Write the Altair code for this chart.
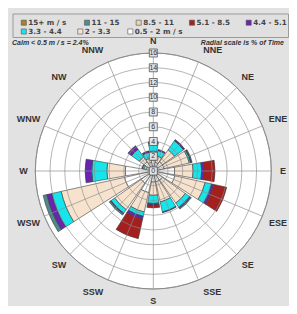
import altair as alt
import pandas as pd
import numpy as np

# ---------------- data read from the rose ----------------
directions = ["N", "NNE", "NE", "ENE", "E", "ESE", "SE", "SSE",
              "S", "SSW", "SW", "WSW", "W", "WNW", "NW", "NNW"]
bearing = [0.0, 22.5, 45.0, 67.5, 90.0, 112.5, 135.0, 157.5,
           180.0, 202.5, 225.0, 247.5, 270.0, 292.5, 315.0, 337.5]

# % of time for each speed class, per direction
p_05_2  = [1.5, 1.2, 1.5, 1.5, 2.9, 3.0, 1.5, 1.5, 1.5, 3.0, 2.0, 4.0, 3.8, 1.0, 1.5, 1.2]
p_2_33  = [1.2, 0.9, 2.0, 3.5, 2.5, 4.2, 3.8, 2.8, 1.8, 2.7, 4.4, 8.8, 2.5, 0.3, 0.8, 0.6]
p_33_44 = [1.1, 0.75, 1.5, 0.2, 1.16, 0.9, 0.7, 1.4, 1.1, 0.6, 0.6, 1.3, 2.05, 0.2, 1.3, 0.8]
p_44_51 = [0.2, 0.15, 0.2, 0.1, 0.32, 0.3, 0.15, 0.1, 0.2, 0.4, 0.1, 0.7, 0.9, 0.1, 0.6, 0.2]
p_51_85 = [0, 0, 0, 0, 1.49, 1.8, 0, 0, 0.4, 2.7, 0, 0, 0, 0, 0, 0]
p_85_11 = [0] * 16
p_11_15 = [0, 0, 0, 0.1, 0, 0, 0.15, 0, 0, 0, 0.2, 0.5, 0, 0, 0, 0]
p_15    = [0] * 16

classes = ["15+ m / s", "11 - 15", "8.5 - 11", "5.1 - 8.5",
           "4.4 - 5.1", "3.3 - 4.4", "2 - 3.3", "0.5 - 2 m / s"]
class_colors = ["#A8812C", "#4F8A8C", "#EAD2B4", "#A3201F",
                "#6A24B2", "#16E6EC", "#F7E3CD", "#FFFFFF"]

ring_values = [2, 4, 6, 8, 10, 12, 14, 16]
tick_labels = ["0", "2", "4", "6", "8", "10", "12", "14", "16"]
tick_values = [0, 2, 4, 6, 8, 10, 12, 14, 16]

calm_text = "Calm < 0.5 m / s = 2.4%"
scale_text = "Radial scale is % of Time"

# ---------------- layout ----------------
W, H = 281, 298
CX, CY = 145.3, 163.0
PX = 7.375            # pixels per percent
RMAX = 16
HALF = 10.0           # half petal width in degrees

# legend entry positions (pixels in the chart) - layout only
LEG_X = [15.8, 79.0, 130.7, 184.0, 240.7, 15.8, 72.3, 122.3]
LEG_Y = [14.7] * 5 + [23.5] * 3

# stacked petal table (inner -> outer)
stack_order = [("0.5 - 2 m / s", p_05_2), ("2 - 3.3", p_2_33), ("3.3 - 4.4", p_33_44),
               ("4.4 - 5.1", p_44_51), ("5.1 - 8.5", p_51_85), ("8.5 - 11", p_85_11),
               ("11 - 15", p_11_15), ("15+ m / s", p_15)]
rows = []
for i, d in enumerate(directions):
    cum = 0.0
    for name, arr in stack_order:
        v = arr[i]
        if v > 0:
            rows.append({"dir": d, "cls": name, "r0": cum, "r1": cum + v,
                         "t0": bearing[i] - HALF, "t1": bearing[i] + HALF})
            cum += v
petal_df = pd.DataFrame(rows)

theta_scale = alt.Scale(domain=[0, 360], range=[0, 2 * np.pi])
r_scale = alt.Scale(type="linear", domain=[0, RMAX], range=[0, RMAX * PX], zero=True, nice=False)
x_scale = alt.Scale(domain=[-CX / PX, (W - CX) / PX], range=[0, W], nice=False, zero=False)
y_scale = alt.Scale(domain=[-(H - CY) / PX, CY / PX], range=[H, 0], nice=False, zero=False)
color_scale = alt.Scale(domain=classes, range=class_colors)

disk = alt.Chart(pd.DataFrame({"a": [0], "b": [360], "r": [RMAX]})).mark_arc(
    fill="white", stroke="#8a8a8a", strokeWidth=1
).encode(
    theta=alt.Theta("a:Q", scale=theta_scale, stack=None), theta2="b:Q",
    radius=alt.Radius("r:Q", scale=r_scale, stack=None),
    x=alt.value(CX), y=alt.value(CY))

petals = alt.Chart(petal_df).mark_arc(stroke="#3a3a3a", strokeWidth=0.6).encode(
    theta=alt.Theta("t0:Q", scale=theta_scale, stack=None), theta2="t1:Q",
    radius=alt.Radius("r1:Q", scale=r_scale, stack=None), radius2="r0:Q",
    color=alt.Color("cls:N", scale=color_scale, legend=None),
    x=alt.value(CX), y=alt.value(CY))

rings_df = pd.DataFrame({"a": 0, "b": 360, "r": ring_values})
rings = alt.Chart(rings_df).mark_arc(fillOpacity=0, stroke="#8c8c8c", strokeWidth=0.8,
                                     strokeOpacity=0.8).encode(
    theta=alt.Theta("a:Q", scale=theta_scale, stack=None), theta2="b:Q",
    radius=alt.Radius("r:Q", scale=r_scale, stack=None),
    x=alt.value(CX), y=alt.value(CY))

rad = np.deg2rad(bearing)
spoke_df = pd.DataFrame({"x0": 0.0, "y0": 0.0,
                         "x1": RMAX * np.sin(rad), "y1": RMAX * np.cos(rad)})
spokes = alt.Chart(spoke_df).mark_rule(color="#8c8c8c", strokeWidth=0.8, opacity=0.85).encode(
    x=alt.X("x0:Q", scale=x_scale, axis=None), y=alt.Y("y0:Q", scale=y_scale, axis=None),
    x2="x1:Q", y2="y1:Q")

# direction labels: radius and alignment (layout)
lab_r, lab_align = [], []
for d in directions:
    if d in ("N", "E", "S", "W"):
        lab_r.append(17.6); lab_align.append("center")
    elif d in ("NNE", "SSE"):
        lab_r.append(17.7); lab_align.append("left")
    elif d in ("NNW", "SSW"):
        lab_r.append(17.7); lab_align.append("right")
    elif d in ("ENE", "ESE", "WNW", "WSW"):
        lab_r.append(18.3); lab_align.append("center")
    else:
        lab_r.append(18.1); lab_align.append("center")
dir_df = pd.DataFrame({"d": directions, "al": lab_align,
                       "x": np.array(lab_r) * np.sin(rad), "y": np.array(lab_r) * np.cos(rad)})
dir_layers = []
for al in ("center", "left", "right"):
    dir_layers.append(
        alt.Chart(dir_df[dir_df["al"] == al]).mark_text(
            font="Liberation Sans", fontSize=9, fontWeight="bold", color="#333", align=al
        ).encode(x=alt.X("x:Q", scale=x_scale, axis=None),
                 y=alt.Y("y:Q", scale=y_scale, axis=None), text="d:N"))

tick_df = pd.DataFrame({"t": tick_labels, "v": tick_values, "x": 0.0})
tick_box = alt.Chart(tick_df).mark_square(size=64, fill="#E4E4E4", stroke="#444",
                                          strokeWidth=0.7, opacity=1).encode(
    x=alt.X("x:Q", scale=x_scale, axis=None), y=alt.Y("v:Q", scale=y_scale, axis=None))
tick_text = alt.Chart(tick_df).mark_text(font="Liberation Sans", fontSize=7, color="#333").encode(
    x=alt.X("x:Q", scale=x_scale, axis=None), y=alt.Y("v:Q", scale=y_scale, axis=None), text="t:N")

calm = alt.Chart(pd.DataFrame({"t": [calm_text]})).mark_text(
    font="Liberation Sans", fontSize=7, fontStyle="italic", fontWeight="bold",
    color="#333", align="left").encode(text="t:N", x=alt.value(4), y=alt.value(35))
radial = alt.Chart(pd.DataFrame({"t": [scale_text]})).mark_text(
    font="Liberation Sans", fontSize=7, fontStyle="italic", fontWeight="bold",
    color="#333", align="right").encode(text="t:N", x=alt.value(276), y=alt.value(35))

# manual legend box
leg_df = pd.DataFrame({"cls": classes,
                       "lx": [(v - CX) / PX for v in LEG_X],
                       "ly": [(CY - v) / PX for v in LEG_Y]})
leg_bg = alt.Chart(pd.DataFrame({"a": [0]})).mark_rect(
    fill="#E0E0E0", stroke="#9A9A9A", strokeWidth=1).encode(
    x=alt.value(5), x2=alt.value(280.5), y=alt.value(6), y2=alt.value(29.5))
leg_sym = alt.Chart(leg_df).mark_square(size=26, stroke="#555", strokeWidth=0.6, opacity=1).encode(
    x=alt.X("lx:Q", scale=x_scale, axis=None), y=alt.Y("ly:Q", scale=y_scale, axis=None),
    color=alt.Color("cls:N", scale=color_scale, legend=None))
leg_txt = alt.Chart(leg_df).mark_text(font="DejaVu Sans", fontSize=7.2, fontWeight="bold",
                                      color="#444", align="left", dx=4.5).encode(
    x=alt.X("lx:Q", scale=x_scale, axis=None), y=alt.Y("ly:Q", scale=y_scale, axis=None),
    text="cls:N")

chart = alt.layer(leg_bg, leg_sym, leg_txt, disk, petals, rings, spokes, tick_box, tick_text,
                  *dir_layers, calm, radial).properties(
    width=W, height=H, autosize=alt.AutoSizeParams(type="none"), padding=0,
    background="#E2E2E2"
).configure_view(stroke=None)

chart.save("out.html", embed_options={"renderer": "svg", "actions": False})
